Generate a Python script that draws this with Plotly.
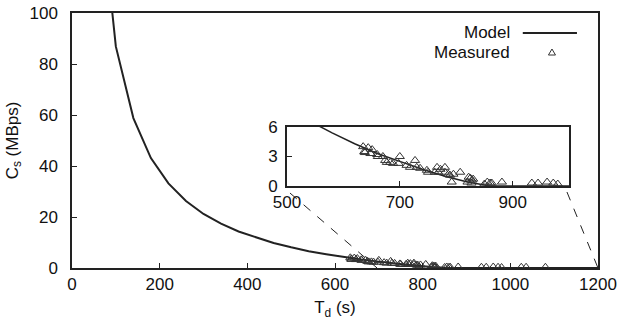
import plotly.graph_objects as go

# Model curve
model_t = [60, 100, 140, 180, 220, 260, 300, 340, 380, 420, 460, 500, 540, 580,
           620, 660, 700, 740, 780, 820, 860, 900, 940, 980, 1020, 1060, 1100,
           1140, 1180, 1200]
model_c = [152.6, 86.9, 58.8, 43.1, 33.2, 26.3, 21.2, 17.4, 14.3, 11.9, 9.8, 8.1,
           6.6, 5.4, 4.3, 3.3, 2.5, 1.7, 1.0, 0.4, 0, 0, 0, 0, 0, 0, 0, 0, 0, 0]

# Measured points
meas_t = [635, 637, 638, 644, 651, 648, 660, 661, 670, 674, 677, 683, 688, 700,
          698, 712, 718, 727, 730, 736, 748, 750, 762, 766, 768, 772, 780, 780,
          786, 789, 792, 795, 807, 820, 822, 825, 827, 828, 830, 850, 855, 860,
          863, 881, 934, 945, 961, 972, 980, 1025, 1036, 1080]
meas_c = [4.0, 3.5, 3.4, 3.9, 3.7, 3.3, 3.2, 3.0, 3.0, 2.6, 2.4, 2.4, 2.3, 3.0,
          2.3, 2.1, 1.9, 2.6, 1.9, 1.8, 1.6, 1.4, 1.4, 1.9, 1.4, 1.7, 1.9, 1.4,
          1.2, 1.1, 0.4, 1.2, 1.4, 0.4, 0.9, 0.8, 0.3, 0.6, 0.7, 0.2, 0.4, 0.3,
          0.3, 0.4, 0.3, 0.3, 0.4, 0.3, 0.2, 0.3, 0.3, 0.3]

x_ticks = [0, 200, 400, 600, 800, 1000, 1200]
y_ticks = [0, 20, 40, 60, 80, 100]
inset_x_ticks = [500, 700, 900]
inset_y_ticks = [0, 3, 6]

FONT = "Liberation Sans, Arial, sans-serif"
DARK = "#222222"

fig = go.Figure()
# main
fig.add_trace(go.Scatter(x=model_t, y=model_c, mode="lines", name="Model",
                         line=dict(color=DARK, width=2), xaxis="x", yaxis="y",
                         showlegend=False))
fig.add_trace(go.Scatter(x=meas_t, y=meas_c, mode="markers", name="Measured",
                         marker=dict(symbol="triangle-up-open", size=8, color="#333333",
                                     line=dict(width=1)),
                         xaxis="x", yaxis="y", showlegend=False, cliponaxis=False))
# inset
fig.add_trace(go.Scatter(x=model_t, y=model_c, mode="lines",
                         line=dict(color=DARK, width=1.5), xaxis="x2", yaxis="y2",
                         showlegend=False))
fig.add_trace(go.Scatter(x=meas_t, y=meas_c, mode="markers",
                         marker=dict(symbol="triangle-up-open", size=8, color="#333333",
                                     line=dict(width=1)),
                         xaxis="x2", yaxis="y2", showlegend=False))

axis_common = dict(showline=True, mirror=True, linecolor=DARK, linewidth=1.5,
                   ticks="inside", ticklen=5, tickcolor=DARK, showgrid=False,
                   zeroline=False, automargin=False, ticklabeloverflow="allow",
                   tickfont=dict(family=FONT, size=17, color="#111"))

fig.update_layout(
    width=622, height=323,
    margin=dict(l=72, r=24, t=13, b=55),
    plot_bgcolor="white", paper_bgcolor="white",
    xaxis=dict(range=[0, 1200], tickvals=x_ticks, domain=[0, 1],
               title=dict(text="T<sub>d</sub> (s)", font=dict(family=FONT, size=17, color="#111"),
                          standoff=8),
               **axis_common),
    yaxis=dict(range=[0, 100], tickvals=y_ticks, domain=[0, 1],
               ticklabelstandoff=9,
               title=dict(text="C<sub>s</sub> (MBps)", font=dict(family=FONT, size=17, color="#111"),
                          standoff=7),
               **axis_common),
    xaxis2=dict(range=[500, 1000], tickvals=inset_x_ticks, domain=[0.4087, 0.945],
                anchor="y2", **axis_common),
    yaxis2=dict(range=[0, 6], tickvals=inset_y_ticks, domain=[0.3216, 0.553],
                anchor="x2", ticklabelstandoff=4, **axis_common),
    font=dict(family=FONT),
    showlegend=False,
)

# legend (text left of symbol, as in reference)
fig.add_annotation(x=0.8365, y=0.9216, xref="paper", yref="paper", text="Model",
                   showarrow=False, xanchor="right", yanchor="middle",
                   font=dict(family=FONT, size=17, color="#111"))
fig.add_annotation(x=0.8365, y=0.847, xref="paper", yref="paper", text="Measured",
                   showarrow=False, xanchor="right", yanchor="middle",
                   font=dict(family=FONT, size=17, color="#111"))
fig.add_shape(type="line", xref="paper", yref="paper", x0=0.857, x1=0.960,
              y0=0.9216, y1=0.9216, line=dict(color=DARK, width=2))
cx, cy, dx, dy = 0.9125, 0.847, 0.0067, 0.0118
fig.add_shape(type="path", xref="paper", yref="paper",
              path=f"M {cx-dx} {cy-dy} L {cx+dx} {cy-dy} L {cx} {cy+dy} Z",
              line=dict(color="#333333", width=1))

# dashed zoom connectors
fig.add_shape(type="line", xref="paper", yref="paper", x0=0.4144, y0=0.294,
              x1=0.580, y1=0.0, line=dict(color=DARK, width=1, dash="dash"))
fig.add_shape(type="line", xref="paper", yref="paper", x0=0.941, y0=0.298,
              x1=1.0, y1=0.0, line=dict(color=DARK, width=1, dash="dash"))

# remove the browser's default 8px body margin so the figure sits at (0, 0)
fig.write_html("out.html", config={"displayModeBar": False},
               post_script="document.body.style.margin='0';")
